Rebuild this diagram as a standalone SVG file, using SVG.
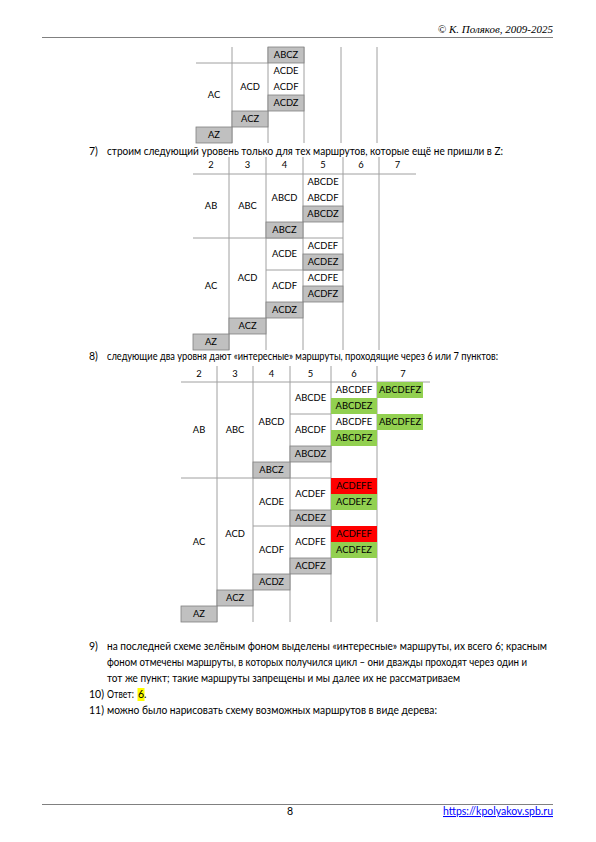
<svg xmlns="http://www.w3.org/2000/svg" width="596" height="842" viewBox="0 0 596 842">
<style>
.bg{fill:#ffffff}
.t{font-family:Lato,"Noto Sans",sans-serif;font-size:9.4px;fill:#000;text-anchor:middle}
.b{font-family:Lato,"Noto Sans",sans-serif;font-size:10.5px;fill:#000}
.g{stroke:#a0a0a0;stroke-width:1;fill:none}
.gr{fill:#c0c0c0;stroke:#808080;stroke-width:0.8}
.gn{fill:#92d050}
.rd{fill:#ff0000}
.hd{font-family:"Liberation Serif",serif;font-style:italic;font-size:11px;fill:#000;text-anchor:end}
.rule{stroke:#808080;stroke-width:1}
</style>
<rect class="bg" x="0" y="0" width="596" height="842"/>

<!-- page header -->
<g id="header">
<text class="hd" x="553" y="33">© К. Поляков, 2009-2025</text>
<line class="rule" x1="42" y1="37.5" x2="553" y2="37.5"/>
</g>

<!-- table continuation (top) -->
<g id="table0">
<g id="t0-grid">
<line class="g" x1="232" y1="47" x2="232" y2="143"/>
<line class="g" x1="268" y1="47" x2="268" y2="143"/>
<line class="g" x1="304" y1="47" x2="304" y2="143"/>
<line class="g" x1="341" y1="47" x2="341" y2="143"/>
<line class="g" x1="377" y1="47" x2="377" y2="143"/>
<line class="g" x1="196" y1="63" x2="268" y2="63"/>
</g>
<g id="t0-ABCZ"><rect class="gr" x="268" y="47" width="36" height="16"/><text class="t" x="286" y="58.4">ABCZ</text></g>
<g id="t0-ACDE"><text class="t" x="286" y="74.4">ACDE</text></g>
<g id="t0-ACDF"><text class="t" x="286" y="90.4">ACDF</text></g>
<g id="t0-ACDZ"><rect class="gr" x="268" y="95" width="36" height="16"/><text class="t" x="286" y="106.4">ACDZ</text></g>
<g id="t0-ACD"><text class="t" x="250" y="90.4">ACD</text></g>
<g id="t0-AC"><text class="t" x="214" y="98.4">AC</text></g>
<g id="t0-ACZ"><rect class="gr" x="232" y="111" width="36" height="16"/><text class="t" x="250" y="122.4">ACZ</text></g>
<g id="t0-AZ"><rect class="gr" x="196" y="127" width="36" height="16"/><text class="t" x="214" y="138.4">AZ</text></g>
</g>

<g id="item7">
<text class="b" x="89" y="155">7)</text>
<text class="b" x="107" y="155" textLength="396" lengthAdjust="spacingAndGlyphs">строим следующий уровень только для тех маршрутов, которые ещё не пришли в Z:</text>
</g>

<!-- table 7 -->
<g id="table7">
<g id="t7-grid">
<line class="g" x1="229" y1="157" x2="229" y2="350"/>
<line class="g" x1="266" y1="157" x2="266" y2="350"/>
<line class="g" x1="303" y1="157" x2="303" y2="350"/>
<line class="g" x1="343" y1="157" x2="343" y2="350"/>
<line class="g" x1="379" y1="157" x2="379" y2="350"/>
<line class="g" x1="193" y1="174" x2="416" y2="174"/>
<line class="g" x1="193" y1="238" x2="343" y2="238"/>
<line class="g" x1="266" y1="270" x2="343" y2="270"/>
</g>
<g id="t7-head">
<text class="t" x="211" y="168.4">2</text>
<text class="t" x="247.5" y="168.4">3</text>
<text class="t" x="284.5" y="168.4">4</text>
<text class="t" x="323" y="168.4">5</text>
<text class="t" x="361" y="168.4">6</text>
<text class="t" x="397.5" y="168.4">7</text>
</g>
<g id="t7-AB"><text class="t" x="211" y="209.4">AB</text></g>
<g id="t7-ABC"><text class="t" x="247.5" y="209.4">ABC</text></g>
<g id="t7-ABCD"><text class="t" x="284.5" y="201.4">ABCD</text></g>
<g id="t7-ABCDE"><text class="t" x="323" y="185.4">ABCDE</text></g>
<g id="t7-ABCDF"><text class="t" x="323" y="201.4">ABCDF</text></g>
<g id="t7-ABCDZ"><rect class="gr" x="303" y="206" width="40" height="16"/><text class="t" x="323" y="217.4">ABCDZ</text></g>
<g id="t7-ABCZ"><rect class="gr" x="266" y="222" width="37" height="16"/><text class="t" x="284.5" y="233.4">ABCZ</text></g>
<g id="t7-ACDEF"><text class="t" x="323" y="249.4">ACDEF</text></g>
<g id="t7-ACDEZ"><rect class="gr" x="303" y="254" width="40" height="16"/><text class="t" x="323" y="265.4">ACDEZ</text></g>
<g id="t7-ACDE"><text class="t" x="284.5" y="257.4">ACDE</text></g>
<g id="t7-ACDFE"><text class="t" x="323" y="281.4">ACDFE</text></g>
<g id="t7-ACDFZ"><rect class="gr" x="303" y="286" width="40" height="16"/><text class="t" x="323" y="297.4">ACDFZ</text></g>
<g id="t7-ACDF"><text class="t" x="284.5" y="289.4">ACDF</text></g>
<g id="t7-ACDZ"><rect class="gr" x="266" y="302" width="37" height="16"/><text class="t" x="284.5" y="313.4">ACDZ</text></g>
<g id="t7-ACD"><text class="t" x="247.5" y="281.4">ACD</text></g>
<g id="t7-ACZ"><rect class="gr" x="229" y="318" width="37" height="16"/><text class="t" x="247.5" y="329.4">ACZ</text></g>
<g id="t7-AC"><text class="t" x="211" y="289.4">AC</text></g>
<g id="t7-AZ"><rect class="gr" x="193" y="334" width="36" height="16"/><text class="t" x="211" y="345.4">AZ</text></g>
</g>

<g id="item8">
<text class="b" x="89" y="360">8)</text>
<text class="b" x="107" y="360" textLength="391" lengthAdjust="spacingAndGlyphs">следующие два уровня дают «интересные» маршруты, проходящие через 6 или 7 пунктов:</text>
</g>

<!-- table 8 -->
<g id="table8">
<g id="t8-grid">
<line class="g" x1="217" y1="366" x2="217" y2="622"/>
<line class="g" x1="253" y1="366" x2="253" y2="622"/>
<line class="g" x1="290" y1="366" x2="290" y2="622"/>
<line class="g" x1="331" y1="366" x2="331" y2="622"/>
<line class="g" x1="377" y1="366" x2="377" y2="622"/>
<line class="g" x1="181" y1="382" x2="430" y2="382"/>
<line class="g" x1="290" y1="414" x2="331" y2="414"/>
<line class="g" x1="181" y1="478" x2="331" y2="478"/>
<line class="g" x1="253" y1="526" x2="331" y2="526"/>
</g>
<g id="t8-head">
<text class="t" x="199" y="376.7">2</text>
<text class="t" x="235" y="376.7">3</text>
<text class="t" x="271.5" y="376.7">4</text>
<text class="t" x="310.5" y="376.7">5</text>
<text class="t" x="354" y="376.7">6</text>
<text class="t" x="403" y="376.7">7</text>
</g>
<g id="t8-AB"><text class="t" x="199" y="433.4">AB</text></g>
<g id="t8-ABC"><text class="t" x="235" y="433.4">ABC</text></g>
<g id="t8-ABCD"><text class="t" x="271.5" y="425.4">ABCD</text></g>
<g id="t8-ABCDE"><text class="t" x="310.5" y="401.4">ABCDE</text></g>
<g id="t8-ABCDEF"><text class="t" x="354" y="393.4">ABCDEF</text></g>
<g id="t8-ABCDEFZ"><rect class="gn" x="377" y="382" width="46" height="16"/><text class="t" x="400" y="393.4">ABCDEFZ</text></g>
<g id="t8-ABCDEZ"><rect class="gn" x="331" y="398" width="46" height="16"/><text class="t" x="354" y="409.4">ABCDEZ</text></g>
<g id="t8-ABCDF"><text class="t" x="310.5" y="433.4">ABCDF</text></g>
<g id="t8-ABCDFE"><text class="t" x="354" y="425.4">ABCDFE</text></g>
<g id="t8-ABCDFEZ"><rect class="gn" x="377" y="414" width="46" height="16"/><text class="t" x="400" y="425.4">ABCDFEZ</text></g>
<g id="t8-ABCDFZ"><rect class="gn" x="331" y="430" width="46" height="16"/><text class="t" x="354" y="441.4">ABCDFZ</text></g>
<g id="t8-ABCDZ"><rect class="gr" x="290" y="446" width="41" height="16"/><text class="t" x="310.5" y="457.4">ABCDZ</text></g>
<g id="t8-ABCZ"><rect class="gr" x="253" y="462" width="37" height="16"/><text class="t" x="271.5" y="473.4">ABCZ</text></g>
<g id="t8-AC"><text class="t" x="199" y="545.4">AC</text></g>
<g id="t8-ACD"><text class="t" x="235" y="537.4">ACD</text></g>
<g id="t8-ACDE"><text class="t" x="271.5" y="505.4">ACDE</text></g>
<g id="t8-ACDEF"><text class="t" x="310.5" y="497.4">ACDEF</text></g>
<g id="t8-ACDEFE"><rect class="rd" x="331" y="478" width="46" height="16"/><text class="t" x="354" y="489.4">ACDEFE</text></g>
<g id="t8-ACDEFZ"><rect class="gn" x="331" y="494" width="46" height="16"/><text class="t" x="354" y="505.4">ACDEFZ</text></g>
<g id="t8-ACDEZ"><rect class="gr" x="290" y="510" width="41" height="16"/><text class="t" x="310.5" y="521.4">ACDEZ</text></g>
<g id="t8-ACDF"><text class="t" x="271.5" y="553.4">ACDF</text></g>
<g id="t8-ACDFE"><text class="t" x="310.5" y="545.4">ACDFE</text></g>
<g id="t8-ACDFEF"><rect class="rd" x="331" y="526" width="46" height="16"/><text class="t" x="354" y="537.4">ACDFEF</text></g>
<g id="t8-ACDFEZ"><rect class="gn" x="331" y="542" width="46" height="16"/><text class="t" x="354" y="553.4">ACDFEZ</text></g>
<g id="t8-ACDFZ"><rect class="gr" x="290" y="558" width="41" height="16"/><text class="t" x="310.5" y="569.4">ACDFZ</text></g>
<g id="t8-ACDZ"><rect class="gr" x="253" y="574" width="37" height="16"/><text class="t" x="271.5" y="585.4">ACDZ</text></g>
<g id="t8-ACZ"><rect class="gr" x="217" y="590" width="36" height="16"/><text class="t" x="235" y="601.4">ACZ</text></g>
<g id="t8-AZ"><rect class="gr" x="181" y="606" width="36" height="16"/><text class="t" x="199" y="617.4">AZ</text></g>
</g>

<g id="item9">
<text class="b" x="89" y="650">9)</text>
<text class="b" x="107" y="650" textLength="440" lengthAdjust="spacingAndGlyphs">на последней схеме зелёным фоном выделены «интересные» маршруты, их всего 6; красным</text>
<text class="b" x="107" y="666" textLength="420" lengthAdjust="spacingAndGlyphs">фоном отмечены маршруты, в которых получился цикл – они дважды проходят через один и</text>
<text class="b" x="107" y="682" textLength="353" lengthAdjust="spacingAndGlyphs">тот же пункт; такие маршруты запрещены и мы далее их не рассматриваем</text>
</g>
<g id="item10">
<text class="b" x="89" y="698">10)</text>
<rect x="137.5" y="688" width="7" height="13" fill="#ffff00"/>
<text class="b" x="107" y="698" textLength="27" lengthAdjust="spacingAndGlyphs">Ответ:</text>
<text class="b" x="138" y="698">6.</text>
</g>
<g id="item11">
<text class="b" x="89" y="714">11)</text>
<text class="b" x="107" y="714" textLength="330" lengthAdjust="spacingAndGlyphs">можно было нарисовать схему возможных маршрутов в виде дерева:</text>
</g>

<g id="footer">
<line class="rule" x1="42" y1="804.5" x2="553" y2="804.5"/>
<text class="b" x="290" y="815" text-anchor="middle">8</text>
<text class="b" x="443" y="815" textLength="110" lengthAdjust="spacingAndGlyphs" style="fill:#0000ff" text-decoration="underline">https://kpolyakov.spb.ru</text>
</g>
</svg>
